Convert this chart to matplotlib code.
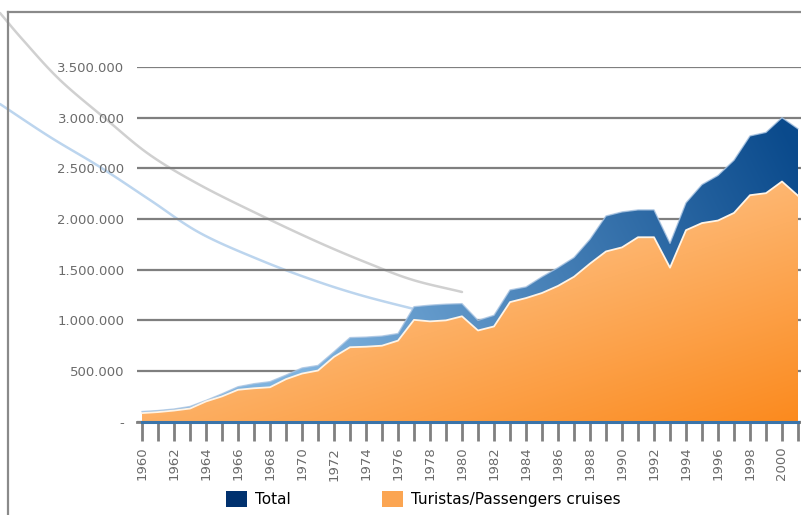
import numpy as np
import matplotlib
matplotlib.use("Agg")
import matplotlib.pyplot as plt
from matplotlib.lines import Line2D
from matplotlib.patches import Patch
from matplotlib.colors import to_rgb
from matplotlib.ticker import FuncFormatter

# ---------------- data ----------------
years = list(range(1960, 2002))
total = [100, 110, 125, 150, 210, 275, 345, 375, 395, 460,
         530, 555, 690, 830, 835, 845, 870, 1135, 1150, 1160,
         1165, 1000, 1050, 1300, 1330, 1430, 1520, 1620, 1800, 2030,
         2070, 2090, 2090, 1760, 2160, 2340, 2430, 2580, 2820, 2855,
         3000, 2890]
turistas = [85, 95, 110, 130, 200, 250, 315, 330, 340, 420,
            475, 505, 640, 735, 740, 750, 800, 1005, 990, 1000,
            1040, 900, 940, 1180, 1220, 1270, 1340, 1430, 1560, 1680,
            1720, 1820, 1820, 1520, 1890, 1960, 1985, 2060, 2235, 2255,
            2370, 2230]
total = np.array(total) * 1000.0
turistas = np.array(turistas) * 1000.0
labels = ["Total", "Turistas/Passengers cruises"]
yticks = [0, 500000, 1000000, 1500000, 2000000, 2500000, 3000000, 3500000]

W, H = 801, 515
fig = plt.figure(figsize=(W / 100, H / 100), dpi=100)

def fx(px):
    return px / W

def fy(py):
    return 1 - py / H

def smooth(pts, n=12):
    p = np.array(pts, dtype=float)
    p = np.vstack([p[0] * 2 - p[1], p, p[-1] * 2 - p[-2]])
    out = []
    for i in range(1, len(p) - 2):
        p0, p1, p2, p3 = p[i - 1], p[i], p[i + 1], p[i + 2]
        for t in np.linspace(0, 1, n, endpoint=False):
            t2, t3 = t * t, t * t * t
            out.append(0.5 * ((2 * p1) + (-p0 + p2) * t +
                              (2 * p0 - 5 * p1 + 4 * p2 - p3) * t2 +
                              (-p0 + 3 * p1 - 3 * p2 + p3) * t3))
    out.append(p[-2])
    return np.array(out)

# decorative background curves (figure pixel coordinates)
gray_curve = [(0, 13), (23, 40), (60, 80), (107, 120), (150, 155), (200, 185),
              (260, 215), (320, 243), (370, 264), (413, 280), (462, 292)]
blue_curve = [(0, 104), (50, 137), (100, 167), (150, 200), (200, 233),
              (260, 260), (313, 280), (360, 295), (410, 308), (432, 313)]
for pts, col in [(gray_curve, "#d0d0d0"), (blue_curve, "#bcd5ee")]:
    s = smooth(pts)
    fig.add_artist(Line2D(fx(s[:, 0]), fy(s[:, 1]), color=col, lw=1.8, zorder=0,
                          solid_capstyle="round"))

# frame lines
fig.add_artist(Line2D([fx(8), fx(801)], [fy(11.5), fy(11.5)], color="#8a8a8a", lw=1.6, zorder=0))
fig.add_artist(Line2D([fx(8), fx(8)], [fy(11.5), fy(515)], color="#8a8a8a", lw=1.6, zorder=0))

# ---------------- axes ----------------
ax_left, ax_right = 137, 801
ax_top, ax_bot = 67, 421.7
ax = fig.add_axes([fx(ax_left), fy(ax_bot), fx(ax_right - ax_left), (ax_bot - ax_top) / H])
ax.set_facecolor("none")
xmin = 1960 - 5 / 16
xmax = 2001 + 3 / 16
ax.set_xlim(xmin, xmax)
ax.set_ylim(0, 3500000)

for s in ["top", "right", "left"]:
    ax.spines[s].set_visible(False)
ax.spines["bottom"].set_color("#808080")
ax.spines["bottom"].set_linewidth(2)

ax.set_yticks(yticks)
ax.yaxis.set_major_formatter(FuncFormatter(
    lambda v, p: "-" if v == 0 else f"{int(v):,}".replace(",", ".")))
ax.tick_params(axis="y", length=0, pad=9, labelsize=9.5, labelcolor="#6b6b6b")
ax.grid(axis="y", color="#7f7f7f", lw=1.6, zorder=1)
ax.set_axisbelow(True)

ax.set_xticks(years)
ax.set_xticklabels([str(y) if y % 2 == 0 else "" for y in years], rotation=90)
ax.tick_params(axis="x", length=14, width=2, color="#808080", pad=4,
               labelsize=9.5, labelcolor="#6b6b6b")

# gradient helper
def grad_fill(yvals, c0, c1, tfunc, z):
    poly = ax.fill_between(years, 0, yvals, facecolor="none", edgecolor="none", zorder=z)
    nx, ny = 300, 300
    xs = np.linspace(xmin, xmax, nx)
    ys = np.linspace(0, 3500000, ny)
    X, Y = np.meshgrid(xs, ys)
    t = np.clip(tfunc(X, Y), 0, 1)[..., None]
    a = np.array(to_rgb(c0))
    b = np.array(to_rgb(c1))
    img = a * (1 - t) + b * t
    im = ax.imshow(img, extent=[xmin, xmax, 0, 3500000], origin="lower",
                   aspect="auto", zorder=z, interpolation="bilinear")
    im.set_clip_path(poly.get_paths()[0], transform=ax.transData)
    return poly

grad_fill(total, "#7fb3df", "#0a4a8c",
          lambda X, Y: 0.75 * (X - 1972) / 28 + 0.25 * Y / 3000000, 2)
ax.plot(years, total, color="#a9c4e2", lw=1.0, alpha=0.8, zorder=2.5)

grad_fill(turistas, "#ffd4a8", "#fb8a1e",
          lambda X, Y: 0.6 * (1 - Y / 2400000) + 0.5 * (X - 1960) / 41 - 0.1, 3)
ax.plot(years, turistas, color="#fff4e6", lw=1.3, zorder=3.5)

ax.plot([years[0], years[-1]], [0, 0], color="#3a74aa", lw=2.2, zorder=4, clip_on=False)

# legend
handles = [Patch(facecolor="#00316e", edgecolor="none"),
           Patch(facecolor="#fba552", edgecolor="none")]
fig.legend(handles, labels, loc="lower left", bbox_to_anchor=(fx(218), 0.0),
           ncol=2, frameon=False, fontsize=11, handlelength=1.4, handleheight=1.25,
           handletextpad=0.5, columnspacing=6.0, borderaxespad=0.1)

fig.savefig("out.png", dpi=100)
